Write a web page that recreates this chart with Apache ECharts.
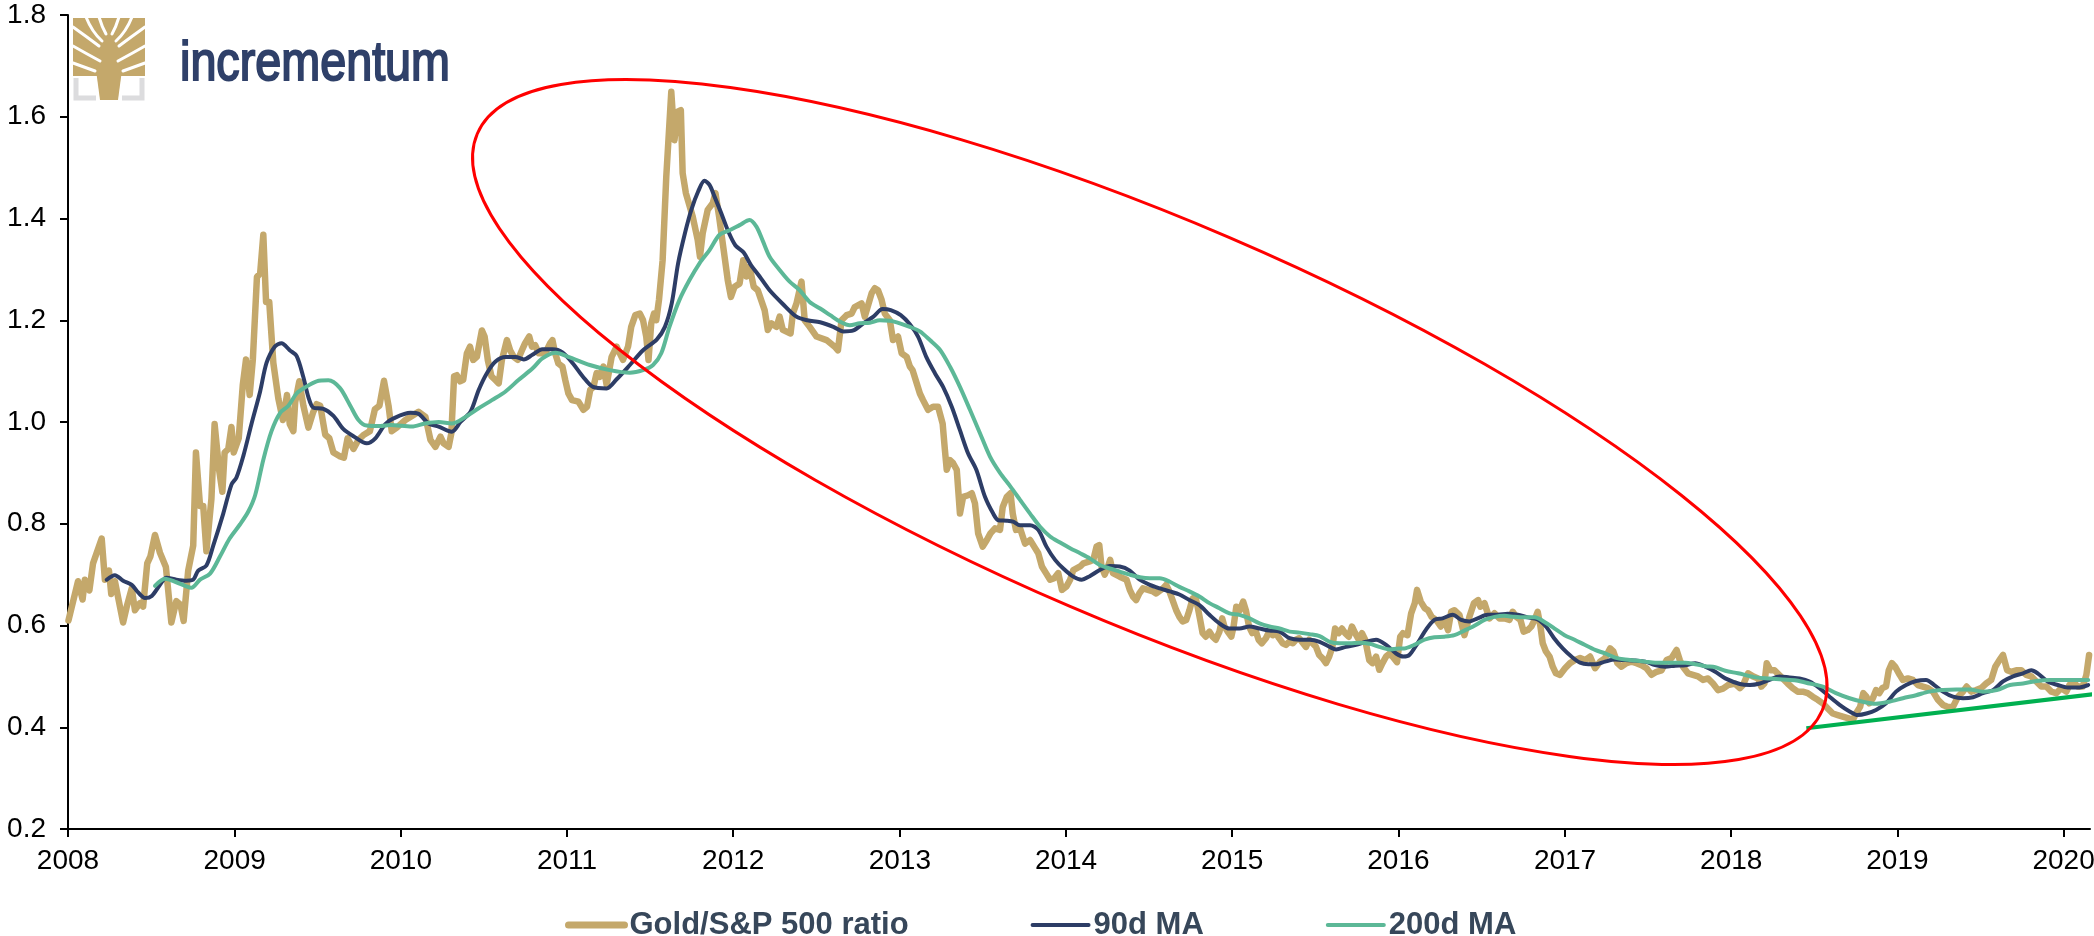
<!DOCTYPE html>
<html>
<head>
<meta charset="utf-8">
<title>Gold/S&amp;P 500 ratio</title>
<script src="https://cdn.jsdelivr.net/npm/echarts@6/dist/echarts.min.js"></script>
<style>
  html, body { margin: 0; padding: 0; background: #ffffff; }
  #chart { width: 2094px; height: 936px; }
</style>
</head>
<body>
<div id="chart"></div>
<script>
// ---- Series: Gold / S&P 500 ratio ----
const ratioDates = [
  '2008-01-02','2008-01-23','2008-02-02','2008-02-07','2008-02-17','2008-02-25','2008-03-15','2008-03-22','2008-03-31','2008-04-05',
  '2008-04-13','2008-05-01','2008-05-09','2008-05-20','2008-05-27','2008-06-07','2008-06-14','2008-06-23','2008-06-30','2008-07-10',
  '2008-07-21','2008-08-03','2008-08-15','2008-08-26','2008-09-04','2008-09-11','2008-09-21','2008-10-02','2008-10-08','2008-10-17',
  '2008-10-24','2008-10-31','2008-11-11','2008-11-18','2008-11-28','2008-12-05','2008-12-10','2008-12-18','2008-12-25','2008-12-30',
  '2009-01-10','2009-01-19','2009-01-26','2009-02-03','2009-02-10','2009-02-19','2009-02-26','2009-03-05','2009-03-11','2009-03-18',
  '2009-03-27','2009-04-07','2009-04-17','2009-04-26','2009-05-02','2009-05-10','2009-05-14','2009-05-23','2009-06-01','2009-06-12',
  '2009-06-22','2009-06-30','2009-07-08','2009-07-19','2009-07-28','2009-08-06','2009-08-19','2009-08-29','2009-09-06','2009-09-19',
  '2009-09-30','2009-10-12','2009-10-25','2009-11-05','2009-11-15','2009-11-25','2009-12-05','2009-12-12','2009-12-23',
  '2010-01-11','2010-01-29','2010-02-09','2010-02-24','2010-03-07','2010-03-18','2010-03-29','2010-04-05','2010-04-16','2010-04-22',
  '2010-04-28','2010-05-04','2010-05-11','2010-05-18','2010-05-26','2010-06-02','2010-06-09','2010-06-17','2010-06-28','2010-07-04',
  '2010-07-11','2010-07-19','2010-07-27','2010-08-04','2010-08-11','2010-08-22','2010-08-29','2010-09-06','2010-09-15','2010-09-24',
  '2010-10-01','2010-10-10','2010-10-16','2010-10-23','2010-10-31','2010-11-14','2010-11-25','2010-11-30','2010-12-06','2010-12-13',
  '2010-12-22','2010-12-28',
  '2011-01-04','2011-01-12','2011-01-26','2011-02-06','2011-02-14','2011-02-21','2011-02-28','2011-03-07','2011-03-14','2011-03-22',
  '2011-03-29','2011-04-09','2011-04-20','2011-04-27','2011-05-04','2011-05-15','2011-05-22','2011-05-31','2011-06-10','2011-06-17',
  '2011-06-24','2011-06-29','2011-07-05','2011-07-11','2011-07-16','2011-07-22','2011-07-30','2011-08-07','2011-08-18','2011-08-25',
  '2011-09-01','2011-09-08','2011-09-12','2011-09-19','2011-10-04','2011-10-15','2011-10-20','2011-10-26','2011-11-06','2011-11-17',
  '2011-11-23','2011-12-01','2011-12-12','2011-12-20','2011-12-27',
  '2012-01-04','2012-01-15','2012-01-23','2012-01-30','2012-02-06','2012-02-15','2012-02-24','2012-03-10','2012-03-17','2012-03-25',
  '2012-04-05','2012-04-12','2012-04-19','2012-05-06','2012-05-11','2012-05-19','2012-05-30','2012-06-06','2012-06-17','2012-07-02',
  '2012-07-24','2012-08-11','2012-08-18','2012-08-26','2012-09-06','2012-09-17','2012-09-24','2012-10-09','2012-10-16','2012-10-31',
  '2012-11-07','2012-11-14','2012-11-22','2012-11-29','2012-12-10','2012-12-17','2012-12-28',
  '2013-01-05','2013-01-16','2013-01-23','2013-01-29','2013-02-07','2013-02-14','2013-02-21','2013-03-04','2013-03-15','2013-03-26',
  '2013-04-05','2013-04-10','2013-04-14','2013-04-21','2013-04-28','2013-05-06','2013-05-13','2013-05-20','2013-05-31','2013-06-08',
  '2013-06-15','2013-06-22','2013-07-02','2013-07-11','2013-07-19','2013-07-29','2013-08-09','2013-08-15','2013-08-24','2013-09-01',
  '2013-09-06','2013-09-13','2013-09-22','2013-10-03','2013-10-14','2013-10-23','2013-11-01','2013-11-09','2013-11-18','2013-11-27',
  '2013-12-06','2013-12-15','2013-12-23',
  '2014-01-02','2014-01-10','2014-01-17','2014-02-01','2014-02-08','2014-02-22','2014-03-02','2014-03-09','2014-03-15','2014-03-20',
  '2014-03-27','2014-04-03','2014-04-08','2014-04-14','2014-04-29','2014-05-14','2014-05-21','2014-05-28','2014-06-04','2014-06-11',
  '2014-06-19','2014-07-11','2014-07-18','2014-08-02','2014-08-09','2014-08-16','2014-08-23','2014-08-31','2014-09-07','2014-09-14',
  '2014-09-22','2014-09-29','2014-10-06','2014-10-12','2014-10-17','2014-10-22','2014-10-28','2014-11-04','2014-11-12','2014-11-19',
  '2014-11-26','2014-12-04','2014-12-10','2014-12-15','2014-12-22','2014-12-30',
  '2015-01-04','2015-01-10','2015-01-18','2015-01-25','2015-01-31','2015-02-07','2015-02-14','2015-02-21','2015-02-28','2015-03-07',
  '2015-03-16','2015-03-23','2015-03-31','2015-04-07','2015-04-14','2015-04-22','2015-04-29','2015-05-06','2015-05-14','2015-05-21',
  '2015-05-28','2015-06-12','2015-06-19','2015-07-04','2015-07-11','2015-07-19','2015-07-26','2015-08-02','2015-08-09','2015-08-15',
  '2015-08-23','2015-08-30','2015-09-06','2015-09-14','2015-09-21','2015-09-28','2015-10-06','2015-10-13','2015-10-20','2015-10-29',
  '2015-11-05','2015-11-13','2015-11-20','2015-11-27','2015-12-05','2015-12-13','2015-12-19','2015-12-29',
  '2016-01-05','2016-01-11','2016-01-21','2016-01-29','2016-02-06','2016-02-11','2016-02-19','2016-02-28','2016-03-06','2016-03-14',
  '2016-03-24','2016-04-03','2016-04-11','2016-04-19','2016-04-26','2016-05-03','2016-05-14','2016-05-25','2016-06-05','2016-06-15',
  '2016-06-24','2016-06-29','2016-07-08','2016-07-19','2016-07-30','2016-08-10','2016-08-21','2016-09-01','2016-09-08','2016-09-16',
  '2016-09-25','2016-10-02','2016-10-11','2016-10-19','2016-10-26','2016-11-02','2016-11-08','2016-11-13','2016-11-20','2016-11-28',
  '2016-12-05','2016-12-12','2016-12-21',
  '2017-01-01','2017-01-12','2017-01-23','2017-02-03','2017-02-14','2017-02-25','2017-03-08','2017-03-19','2017-03-30','2017-04-10',
  '2017-04-17','2017-04-26','2017-05-05','2017-05-16','2017-05-27','2017-06-07','2017-06-18','2017-06-29','2017-07-10','2017-07-21',
  '2017-08-01','2017-08-12','2017-08-23','2017-09-03','2017-09-10','2017-09-17','2017-09-28','2017-10-09','2017-10-20','2017-10-31',
  '2017-11-11','2017-11-22','2017-12-03','2017-12-14','2017-12-25',
  '2018-01-09','2018-01-20','2018-01-27','2018-02-07','2018-02-18','2018-03-01','2018-03-08','2018-03-15','2018-03-20','2018-03-28',
  '2018-04-06','2018-04-16','2018-04-24','2018-05-05','2018-05-16','2018-05-27','2018-06-07','2018-06-18','2018-06-29','2018-07-10',
  '2018-07-21','2018-08-01','2018-08-12','2018-08-23','2018-09-03','2018-09-14','2018-09-25','2018-10-02','2018-10-11','2018-10-18',
  '2018-10-25','2018-10-31','2018-11-08','2018-11-15','2018-11-22','2018-11-29','2018-12-07','2018-12-13','2018-12-20','2018-12-27',
  '2019-01-06','2019-01-13','2019-01-24','2019-02-04','2019-02-15','2019-02-26','2019-03-09','2019-03-20','2019-03-31','2019-04-11',
  '2019-04-22','2019-05-03','2019-05-14','2019-05-25','2019-06-02','2019-06-12','2019-06-23','2019-07-04','2019-07-15','2019-07-26',
  '2019-08-04','2019-08-13','2019-08-21','2019-08-30','2019-09-08','2019-09-19','2019-09-30','2019-10-11','2019-10-22','2019-11-02',
  '2019-11-13','2019-11-24','2019-12-05','2019-12-16','2019-12-27',
  '2020-01-07','2020-01-14','2020-01-21','2020-02-01','2020-02-12','2020-02-20','2020-02-26'
];
const ratioValues = [
  0.610,0.687,0.651,0.690,0.669,0.722,0.771,0.690,0.708,0.662,
  0.687,0.606,0.637,0.673,0.630,0.644,0.637,0.722,0.736,0.778,
  0.743,0.715,0.606,0.648,0.641,0.609,0.708,0.757,0.940,0.835,
  0.835,0.746,0.849,0.996,0.905,0.863,0.940,0.947,0.990,0.940,
  0.968,1.074,1.123,1.053,1.123,1.285,1.292,1.368,1.236,1.236,
  1.116,1.046,1.004,1.053,0.996,0.982,1.039,1.080,1.032,0.989,
  1.018,1.035,1.032,0.975,0.968,0.940,0.933,0.930,0.968,0.947,
  0.965,0.975,0.982,1.025,1.032,1.081,1.032,0.982,0.989,
  1.004,1.014,1.020,1.010,0.965,0.951,0.971,0.958,0.951,0.978,
  1.090,1.092,1.080,1.083,1.135,1.148,1.122,1.128,1.180,1.168,
  1.122,1.090,1.083,1.076,1.122,1.161,1.141,1.128,1.122,1.141,
  1.155,1.168,1.148,1.151,1.135,1.135,1.155,1.161,1.135,1.115,
  1.109,1.083,
  1.056,1.043,1.040,1.024,1.030,1.063,1.069,1.096,1.089,1.109,
  1.073,1.128,1.148,1.135,1.122,1.148,1.187,1.210,1.213,1.200,
  1.168,1.122,1.194,1.213,1.200,1.240,1.318,1.482,1.649,1.554,
  1.610,1.613,1.489,1.450,1.404,1.358,1.325,1.371,1.417,1.430,
  1.450,1.404,1.332,1.279,1.246,
  1.266,1.272,1.318,1.286,1.305,1.266,1.259,1.220,1.181,1.194,
  1.187,1.207,1.181,1.174,1.213,1.233,1.276,1.200,1.187,1.168,
  1.161,1.148,1.141,1.200,1.210,1.213,1.226,1.233,1.207,1.253,
  1.263,1.259,1.240,1.213,1.200,1.161,1.168,
  1.135,1.128,1.109,1.102,1.076,1.056,1.043,1.024,1.030,1.030,
  0.997,0.945,0.906,0.925,0.919,0.906,0.820,0.853,0.856,0.860,
  0.840,0.781,0.755,0.768,0.781,0.791,0.788,0.833,0.853,0.860,
  0.820,0.788,0.791,0.761,0.768,0.755,0.742,0.716,0.703,0.690,
  0.693,0.703,0.670,
  0.677,0.690,0.709,0.716,0.722,0.726,0.729,0.755,0.758,0.716,
  0.700,0.716,0.729,0.703,0.696,0.690,0.670,0.657,0.650,0.663,
  0.673,0.667,0.663,0.673,0.680,0.667,0.650,0.630,0.617,0.608,
  0.611,0.630,0.653,0.657,0.637,0.614,0.585,0.578,0.588,0.578,
  0.572,0.588,0.614,0.598,0.588,0.578,
  0.598,0.637,0.630,0.647,0.630,0.598,0.585,0.591,0.572,0.565,
  0.575,0.588,0.581,0.585,0.575,0.565,0.562,0.568,0.565,0.572,
  0.575,0.558,0.572,0.558,0.542,0.535,0.526,0.539,0.558,0.594,
  0.585,0.594,0.585,0.578,0.598,0.585,0.572,0.585,0.572,0.532,
  0.526,0.539,0.513,0.526,0.539,0.545,0.539,0.528,
  0.578,0.585,0.581,0.624,0.644,0.670,0.647,0.634,0.630,0.617,
  0.611,0.598,0.611,0.591,0.627,0.630,0.621,0.581,0.617,0.644,
  0.650,0.637,0.644,0.614,0.624,0.614,0.614,0.611,0.627,0.617,
  0.611,0.588,0.591,0.598,0.611,0.627,0.598,0.565,0.549,0.539,
  0.519,0.506,0.503,
  0.516,0.526,0.532,0.536,0.532,0.539,0.516,0.529,0.536,0.555,
  0.549,0.526,0.519,0.526,0.529,0.526,0.522,0.516,0.503,0.509,
  0.512,0.532,0.536,0.552,0.532,0.519,0.506,0.503,0.500,0.493,
  0.496,0.486,0.473,0.476,0.483,
  0.486,0.477,0.483,0.506,0.500,0.496,0.480,0.486,0.526,0.512,
  0.512,0.503,0.496,0.486,0.477,0.470,0.470,0.467,0.460,0.454,
  0.447,0.437,0.427,0.424,0.421,0.418,0.414,0.427,0.440,0.467,
  0.460,0.447,0.457,0.473,0.467,0.477,0.480,0.512,0.526,0.519,
  0.503,0.493,0.496,0.493,0.483,0.480,0.477,0.470,0.454,0.444,
  0.440,0.440,0.460,0.470,0.480,0.470,0.473,0.477,0.486,0.493,
  0.519,0.532,0.542,0.512,0.509,0.512,0.512,0.503,0.500,0.490,
  0.480,0.480,0.470,0.467,0.477,
  0.470,0.483,0.490,0.480,0.480,0.503,0.542
];

// ---- Series: 90-day moving average ----
const ma90Dates = [
  '2008-03-26','2008-04-13','2008-05-01','2008-05-20','2008-06-03','2008-06-18','2008-07-03','2008-07-21','2008-08-04','2008-08-26',
  '2008-09-17','2008-10-02','2008-10-13','2008-10-31','2008-11-15','2008-12-07','2008-12-25','2009-01-05','2009-01-20','2009-02-07',
  '2009-02-26','2009-03-12','2009-03-30','2009-04-14','2009-05-02','2009-05-17','2009-06-01','2009-06-12','2009-06-23','2009-07-15',
  '2009-08-06','2009-08-28','2009-09-19','2009-10-18','2009-11-06','2009-11-28','2009-12-16','2010-01-22','2010-02-09','2010-03-03',
  '2010-03-25','2010-04-23','2010-05-12','2010-06-03','2010-06-21','2010-07-09','2010-07-28','2010-08-19','2010-09-10','2010-09-28',
  '2010-10-17','2010-11-08','2010-11-30','2010-12-22','2011-01-14','2011-02-05','2011-02-27','2011-03-29','2011-04-20','2011-05-19',
  '2011-06-17','2011-07-17','2011-08-04','2011-08-19','2011-09-02','2011-09-17','2011-10-01','2011-10-16','2011-10-30','2011-11-10',
  '2011-11-21','2011-12-06','2011-12-21','2012-01-06','2012-01-24','2012-02-08','2012-02-28','2012-03-21','2012-04-19','2012-05-19',
  '2012-06-12','2012-07-10','2012-08-08','2012-08-30','2012-09-21','2012-10-13','2012-11-04','2012-11-24','2012-12-12','2013-01-03',
  '2013-01-23','2013-02-10','2013-02-28','2013-03-19','2013-04-06','2013-04-25','2013-05-13','2013-05-31','2013-06-18','2013-07-07',
  '2013-07-25','2013-08-05','2013-08-24','2013-09-07','2013-09-22','2013-10-14','2013-11-01','2013-11-19','2013-12-08','2013-12-26',
  '2014-01-17','2014-02-04','2014-02-22','2014-03-16','2014-04-07','2014-04-29','2014-05-21','2014-06-12','2014-07-04','2014-07-26',
  '2014-08-17','2014-09-07','2014-09-29','2014-10-21','2014-11-12','2014-12-04','2014-12-26','2015-01-17','2015-02-08','2015-03-02',
  '2015-03-24','2015-04-15','2015-05-07','2015-05-29','2015-06-20','2015-07-12','2015-08-03','2015-08-17','2015-09-08','2015-09-30',
  '2015-10-22','2015-11-13','2015-12-05','2015-12-27','2016-01-12','2016-01-25','2016-02-12','2016-03-01','2016-03-20','2016-04-07',
  '2016-04-29','2016-05-18','2016-06-05','2016-06-23','2016-07-15','2016-08-06','2016-08-28','2016-09-19','2016-10-11','2016-11-02',
  '2016-11-20','2016-12-08','2016-12-27','2017-01-15','2017-02-03','2017-02-21','2017-03-11','2017-03-30','2017-04-21','2017-05-13',
  '2017-06-04','2017-06-26','2017-07-18','2017-08-09','2017-08-31','2017-09-22','2017-10-14','2017-11-05','2017-11-27','2017-12-19',
  '2018-01-20','2018-02-11','2018-03-05','2018-03-26','2018-04-17','2018-05-09','2018-05-31','2018-06-22','2018-07-14','2018-08-05',
  '2018-08-27','2018-09-18','2018-10-06','2018-10-25','2018-11-15','2018-12-07','2018-12-29','2019-01-20','2019-02-11','2019-03-05',
  '2019-03-23','2019-04-11','2019-05-03','2019-05-25','2019-06-16','2019-07-08','2019-07-30','2019-08-21','2019-09-12','2019-10-04',
  '2019-10-22','2019-11-05','2019-11-27','2019-12-19','2020-01-10','2020-02-01','2020-02-24'
];
const ma90Values = [
  0.690,0.699,0.688,0.680,0.665,0.654,0.658,0.680,0.694,0.690,
  0.688,0.690,0.708,0.718,0.757,0.820,0.877,0.891,0.933,0.996,
  1.060,1.116,1.148,1.155,1.141,1.130,1.088,1.049,1.028,1.026,
  1.012,0.986,0.972,0.958,0.968,0.996,1.007,1.018,1.016,0.997,
  0.991,0.981,1.000,1.020,1.063,1.096,1.119,1.128,1.128,1.123,
  1.132,1.143,1.143,1.137,1.115,1.089,1.069,1.066,1.084,1.112,
  1.141,1.162,1.187,1.233,1.312,1.371,1.417,1.453,1.474,1.466,
  1.443,1.410,1.375,1.347,1.333,1.310,1.286,1.259,1.232,1.207,
  1.200,1.196,1.187,1.178,1.180,1.194,1.207,1.222,1.220,1.210,
  1.192,1.168,1.128,1.096,1.069,1.030,0.984,0.938,0.906,0.853,
  0.820,0.807,0.806,0.804,0.797,0.797,0.788,0.755,0.729,0.712,
  0.696,0.690,0.697,0.709,0.717,0.716,0.708,0.690,0.680,0.673,
  0.667,0.661,0.650,0.640,0.621,0.604,0.594,0.594,0.598,0.594,
  0.590,0.588,0.575,0.572,0.572,0.568,0.558,0.553,0.558,0.562,
  0.568,0.572,0.562,0.545,0.539,0.542,0.565,0.591,0.611,0.614,
  0.621,0.611,0.608,0.614,0.621,0.621,0.623,0.621,0.616,0.612,
  0.598,0.575,0.555,0.539,0.527,0.524,0.524,0.529,0.533,0.532,
  0.531,0.529,0.522,0.519,0.521,0.522,0.526,0.519,0.509,0.496,
  0.485,0.483,0.486,0.493,0.500,0.498,0.496,0.490,0.477,0.460,
  0.444,0.431,0.424,0.427,0.434,0.447,0.470,0.483,0.491,0.493,
  0.483,0.470,0.460,0.457,0.459,0.467,0.473,0.490,0.500,0.506,
  0.512,0.506,0.490,0.483,0.478,0.478,0.483
];

// ---- Series: 200-day moving average ----
const ma200Dates = [
  '2008-07-10','2008-08-01','2008-08-26','2008-09-14','2008-09-28','2008-10-17','2008-11-08','2008-11-30','2008-12-21','2009-01-13',
  '2009-01-31','2009-02-15','2009-03-05','2009-03-23','2009-04-11','2009-04-29','2009-05-17','2009-06-05','2009-06-30','2009-07-26',
  '2009-08-20','2009-09-12','2009-09-30','2009-10-18','2009-11-17','2009-12-09','2010-01-25','2010-02-23','2010-03-25','2010-04-23',
  '2010-05-23','2010-06-21','2010-07-20','2010-08-19','2010-09-17','2010-10-17','2010-11-08','2010-12-07','2011-01-07','2011-02-20',
  '2011-04-05','2011-05-19','2011-06-17','2011-07-09','2011-07-27','2011-08-14','2011-09-05','2011-09-27','2011-10-19','2011-11-10',
  '2011-12-02','2011-12-24','2012-01-15','2012-02-06','2012-02-21','2012-03-06','2012-03-21','2012-04-12','2012-05-04','2012-05-26',
  '2012-06-17','2012-07-10','2012-08-01','2012-08-23','2012-09-13','2012-10-05','2012-10-27','2012-11-18','2012-12-10','2013-01-01',
  '2013-01-23','2013-02-14','2013-03-08','2013-03-30','2013-04-21','2013-05-13','2013-06-04','2013-06-26','2013-07-18','2013-08-09',
  '2013-09-01','2013-09-22','2013-10-14','2013-11-05','2013-11-27','2013-12-19','2014-01-10','2014-02-01','2014-02-22','2014-03-16',
  '2014-04-07','2014-04-29','2014-05-21','2014-06-12','2014-07-04','2014-07-26','2014-08-17','2014-09-07','2014-09-29','2014-10-21',
  '2014-11-12','2014-12-04','2014-12-26','2015-01-17','2015-02-08','2015-03-02','2015-03-24','2015-04-15','2015-05-07','2015-05-29',
  '2015-06-20','2015-07-12','2015-08-03','2015-08-25','2015-09-16','2015-10-08','2015-10-30','2015-11-20','2015-12-12','2016-01-02',
  '2016-01-14','2016-02-05','2016-02-27','2016-03-20','2016-04-11','2016-05-03','2016-05-25','2016-06-15','2016-07-08','2016-07-30',
  '2016-08-21','2016-09-12','2016-10-04','2016-10-26','2016-11-17','2016-12-09','2016-12-31','2017-01-22','2017-02-13','2017-03-08',
  '2017-03-30','2017-04-21','2017-05-13','2017-06-04','2017-06-26','2017-07-18','2017-08-09','2017-08-31','2017-09-22','2017-10-14',
  '2017-11-05','2017-11-27','2017-12-19','2018-01-16','2018-02-25','2018-03-26','2018-04-24','2018-05-24','2018-06-22','2018-07-21',
  '2018-08-19','2018-09-18','2018-10-17','2018-11-15','2018-12-14','2019-01-13','2019-02-11','2019-03-12','2019-04-11','2019-05-10',
  '2019-06-09','2019-07-08','2019-08-07','2019-09-05','2019-10-04','2019-11-03','2019-12-02','2019-12-31','2020-01-29','2020-02-24'
];
const ma200Values = [
  0.678,0.692,0.685,0.678,0.674,0.690,0.702,0.736,0.771,0.799,
  0.824,0.856,0.926,0.982,1.018,1.032,1.056,1.068,1.080,1.082,
  1.067,1.032,1.004,0.993,0.992,0.994,0.991,0.997,1.000,0.997,
  1.010,1.027,1.043,1.060,1.083,1.105,1.125,1.136,1.127,1.112,
  1.102,1.097,1.102,1.112,1.135,1.187,1.240,1.279,1.312,1.338,
  1.368,1.377,1.387,1.397,1.384,1.356,1.325,1.299,1.276,1.259,
  1.236,1.223,1.210,1.197,1.190,1.194,1.195,1.200,1.199,1.194,
  1.187,1.178,1.161,1.142,1.109,1.069,1.024,0.978,0.932,0.900,
  0.873,0.847,0.820,0.794,0.775,0.763,0.752,0.742,0.732,0.719,
  0.712,0.706,0.700,0.695,0.693,0.693,0.686,0.676,0.667,0.657,
  0.644,0.634,0.624,0.621,0.614,0.604,0.598,0.594,0.588,0.586,
  0.583,0.579,0.568,0.565,0.565,0.566,0.564,0.558,0.553,0.555,
  0.555,0.562,0.572,0.577,0.578,0.581,0.590,0.599,0.611,0.617,
  0.619,0.617,0.616,0.616,0.607,0.594,0.581,0.572,0.562,0.552,
  0.545,0.537,0.533,0.531,0.529,0.527,0.527,0.527,0.527,0.524,
  0.520,0.518,0.511,0.506,0.498,0.496,0.494,0.492,0.486,0.480,
  0.467,0.457,0.450,0.446,0.450,0.457,0.463,0.470,0.473,0.474,
  0.474,0.470,0.473,0.483,0.486,0.491,0.493,0.493,0.493,0.493
];

// ---- Axis ticks ----
const yearLabels = ['2008','2009','2010','2011','2012','2013','2014','2015','2016','2017','2018','2019','2020'];
const axisStart = '2008-01-01';
const axisEnd = '2020-02-28';

// ---- Annotations ----
const supportDates = ['2018-06-15', '2020-03-07'];
const supportValues = [0.398, 0.465];
const focusCenter = ['2014-07-04', 1.0];
const focusHalfSpanDays = 1607;     // semi-major axis, in days
const focusHalfSpanValue = 0.395;   // semi-minor axis, in ratio units
const focusTiltDeg = 23.2;

const COLORS = {
  ratio: '#C4A86B',
  ma90: '#2D3D66',
  ma200: '#5CB897',
  focus: '#FF0000',
  support: '#00B050',
  brand: '#2F4069',
  legendText: '#37475A',
  bracket: '#DCDCDE'
};
const FONT = '"Liberation Sans", Arial, Helvetica, sans-serif';
const DAY = 864e5;

// Dates are handled as UTC timestamps on a numeric axis
const ts = (d) => Date.parse(d);
const pairs = (dates, values) => dates.map((d, i) => [ts(d), values[i]]);
const yearStamps = yearLabels.map(y => Date.UTC(Number(y), 0, 1));

// Brand mark (tree + wordmark) in the top-left corner
function brandGraphics(textScale) {
  const white = '#ffffff';
  const branch = (x1, y1, cx, cy, x2, y2) => ({
    type: 'bezierCurve', z: 20,
    shape: { x1, y1, cpx1: cx, cpy1: cy, x2, y2 },
    style: { stroke: white, lineWidth: 3, fill: null, lineCap: 'round' }
  });
  const mirror = (x) => 218 - x;
  const leftBranches = [
    [73, 27, 87, 37, 99, 46],
    [73, 46, 87, 54, 100, 61],
    [73, 63, 84, 67, 95, 71],
    [86, 17, 92, 32, 102, 41],
    [99, 17, 102, 27, 106, 34]
  ];
  const els = [
    { type: 'rect', z: 19, shape: { x: 73, y: 18, width: 72, height: 58 }, style: { fill: COLORS.ratio } },
    { type: 'polygon', z: 19, shape: { points: [[96, 70], [122, 70], [118, 100], [100, 100]] }, style: { fill: COLORS.ratio } },
    { type: 'polyline', z: 19, shape: { points: [[76, 78], [76, 98], [96, 98]] }, style: { stroke: COLORS.bracket, lineWidth: 5, fill: null } },
    { type: 'polyline', z: 19, shape: { points: [[142, 78], [142, 98], [122, 98]] }, style: { stroke: COLORS.bracket, lineWidth: 5, fill: null } }
  ];
  leftBranches.forEach(b => {
    els.push(branch(b[0], b[1], b[2], b[3], b[4], b[5]));
    els.push(branch(mirror(b[0]), b[1], mirror(b[2]), b[3], mirror(b[4]), b[5]));
  });
  els.push({
    type: 'text', z: 20, x: 180, y: 93, scaleX: textScale,
    style: {
      text: 'incrementum', fill: COLORS.brand, stroke: COLORS.brand, lineWidth: 2,
      font: 'normal 56px ' + FONT, textAlign: 'left', textVerticalAlign: 'bottom'
    }
  });
  return els;
}

const chart = echarts.init(document.getElementById('chart'), null, { renderer: 'canvas' });

const option = {
  animation: false,
  backgroundColor: '#ffffff',
  textStyle: { fontFamily: FONT },
  grid: { left: 68, right: 4, top: 15, bottom: 107, containLabel: false, outerBoundsMode: 'none' },
  legend: {
    left: 560, top: 903,
    itemWidth: 56, itemHeight: 14, itemGap: 122,
    itemStyle: { opacity: 0 },
    textStyle: { fontFamily: FONT, fontSize: 31, fontWeight: 'bold', color: COLORS.legendText, lineHeight: 34 },
    data: [
      { name: 'Gold/S&P 500 ratio', lineStyle: { width: 7, cap: 'round' } },
      { name: '90d MA', lineStyle: { width: 4, cap: 'round' } },
      { name: '200d MA', lineStyle: { width: 4, cap: 'round' } }
    ]
  },
  xAxis: {
    type: 'value',
    min: ts(axisStart),
    max: ts(axisEnd),
    axisLine: { show: true, onZero: false, lineStyle: { color: '#000', width: 2 } },
    axisTick: { show: true, length: 8, inside: false, lineStyle: { color: '#000', width: 2 }, customValues: yearStamps },
    axisLabel: {
      show: true, customValues: yearStamps,
      formatter: (v) => String(new Date(v + 2 * DAY).getUTCFullYear()),
      fontFamily: FONT, fontSize: 28, color: '#000', margin: 18, hideOverlap: false
    },
    splitLine: { show: false },
    minorTick: { show: false }
  },
  yAxis: {
    type: 'value',
    min: 0.2, max: 1.8, interval: 0.2,
    axisLine: { show: true, lineStyle: { color: '#000', width: 2 } },
    axisTick: { show: true, length: 8, inside: false, lineStyle: { color: '#000', width: 2 } },
    axisLabel: {
      formatter: (v) => v.toFixed(1),
      fontFamily: FONT, fontSize: 28, color: '#000', margin: 22
    },
    splitLine: { show: false }
  },
  series: [
    {
      name: 'Gold/S&P 500 ratio', type: 'line', data: pairs(ratioDates, ratioValues),
      symbol: 'none', showSymbol: false, z: 2,
      lineStyle: { color: COLORS.ratio, width: 6.5, join: 'round', cap: 'round' },
      itemStyle: { color: COLORS.ratio }
    },
    {
      name: '90d MA', type: 'line', data: pairs(ma90Dates, ma90Values), smooth: 0.3,
      symbol: 'none', showSymbol: false, z: 3,
      lineStyle: { color: COLORS.ma90, width: 4, join: 'round', cap: 'round' },
      itemStyle: { color: COLORS.ma90 }
    },
    {
      name: '200d MA', type: 'line', data: pairs(ma200Dates, ma200Values), smooth: 0.3,
      symbol: 'none', showSymbol: false, z: 4,
      lineStyle: { color: COLORS.ma200, width: 4, join: 'round', cap: 'round' },
      itemStyle: { color: COLORS.ma200 }
    },
    {
      name: 'support', type: 'line', data: pairs(supportDates, supportValues),
      symbol: 'none', showSymbol: false, clip: false, silent: true, z: 5,
      lineStyle: { color: COLORS.support, width: 4 },
      itemStyle: { color: COLORS.support }
    }
  ]
};

chart.setOption(option);

// Wordmark width is fixed; scale the text horizontally to fit it
const measure = document.createElement('canvas').getContext('2d');
measure.font = 'normal 56px ' + FONT;
const textScale = 270 / measure.measureText('incrementum').width;

// Tilted highlight ellipse, anchored in data space
const cTs = ts(focusCenter[0]);
const c = chart.convertToPixel({ gridIndex: 0 }, [cTs, focusCenter[1]]);
const cEast = chart.convertToPixel({ gridIndex: 0 }, [cTs + focusHalfSpanDays * DAY, focusCenter[1]]);
const cNorth = chart.convertToPixel({ gridIndex: 0 }, [cTs, focusCenter[1] + focusHalfSpanValue]);
const rx = Math.abs(cEast[0] - c[0]);
const ry = Math.abs(c[1] - cNorth[1]);

chart.setOption({
  graphic: brandGraphics(textScale).concat([
    {
      type: 'ellipse', z: 30, silent: true,
      x: c[0], y: c[1], rotation: -focusTiltDeg * Math.PI / 180,
      shape: { cx: 0, cy: 0, rx: rx, ry: ry },
      style: { fill: null, stroke: COLORS.focus, lineWidth: 3 }
    }
  ])
});
</script>
</body>
</html>
